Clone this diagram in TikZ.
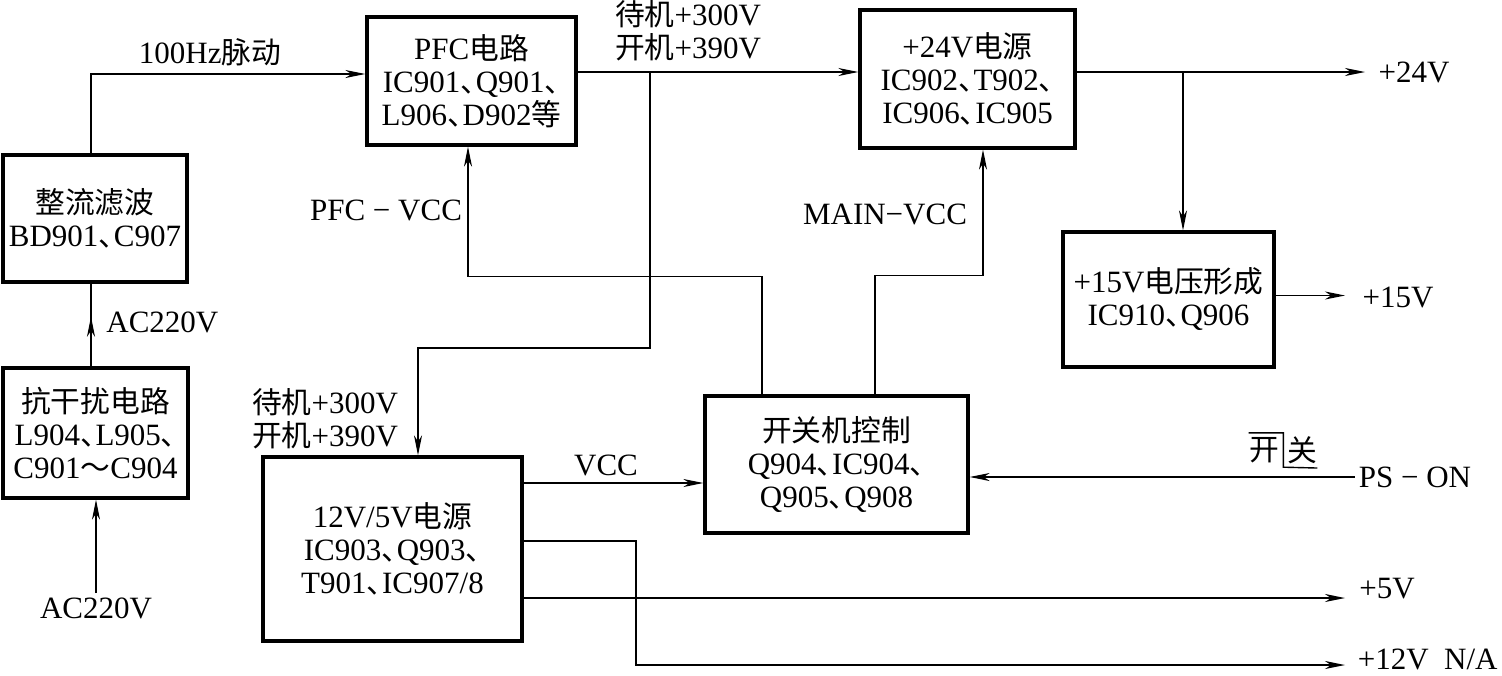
\documentclass[tikz,border=0pt]{standalone}
\usepackage{fontspec}
\setmainfont{Liberation Serif}
\newfontfamily\zhfont{Noto Sans CJK SC}[Scale=0.96]
\newcommand\zh[1]{{\zhfont #1}}
\newcommand\dn{\hbox to 0.5em{\zhfont 、\hss}}
\usetikzlibrary{arrows.meta,calc}
\begin{document}
\begin{tikzpicture}[x=0.5pt,y=-0.5pt,
  font=\fontsize{15.5}{16.5}\selectfont,
  box/.style={draw, line width=1.6pt, align=center, inner sep=0pt},
  lbl/.style={inner sep=2pt, align=center},
  arr/.style={line width=0.8pt, -{Stealth[length=10pt,width=4pt,inset=3pt]}},
  ln/.style={line width=0.8pt}]
\useasboundingbox (0,0) rectangle (1502,675);

% boxes
\node[box, minimum width=92pt, minimum height=63.5pt] (zl) at (95,218.5)
  {\zh{整流滤波}\\BD901\dn C907};
\node[box, minimum width=92.5pt, minimum height=65pt] (kgr) at (95.5,433)
  {\zh{抗干扰电路}\\L904\dn L905\dn\\C901\zh{～}C904};
\node[box, minimum width=104.5pt, minimum height=64pt] (pfc) at (471.5,81)
  {PFC\zh{电路}\\IC901\dn Q901\dn\\L906\dn D902\zh{等}};
\node[box, minimum width=107.5pt, minimum height=69pt] (p24) at (967.5,79)
  {+24V\zh{电源}\\IC902\dn T902\dn\\IC906\dn IC905};
\node[box, minimum width=105.5pt, minimum height=67.5pt] (p15) at (1168.5,299.5)
  {+15V\zh{电压形成}\\IC910\dn Q906};
\node[box, minimum width=131.5pt, minimum height=68.5pt] (ctl) at (836.5,464.5)
  {\zh{开关机控制}\\Q904\dn IC904\dn\\Q905\dn Q908};
\node[box, minimum width=129.5pt, minimum height=92pt] (v12) at (392.5,549)
  {12V/5V\zh{电源}\\IC903\dn Q903\dn\\T901\dn IC907/8};

% labels
\node[lbl] (ac0) at (96,608) {AC220V};
\node[lbl, anchor=west] (ac1) at (102,322) {AC220V};
\node[lbl] (hz) at (210,52) {100Hz\zh{脉动}};
\node[lbl] (top3) at (688,31) {\zh{待机}+300V\\\zh{开机}+390V};
\node[lbl] (left3) at (325,419) {\zh{待机}+300V\\\zh{开机}+390V};
\node[lbl] (pfcvcc) at (386,210) {PFC − VCC};
\node[lbl] (mainvcc) at (885,214) {MAIN−VCC};
\node[lbl] (vcc) at (606,465) {VCC};
\node[lbl] (l24) at (1414,72) {+24V};
\node[lbl] (l15) at (1398,297) {+15V};
\node[lbl] (pson) at (1415,477) {PS − ON};
\node[lbl] (l5) at (1387,589) {+5V};
\node[lbl, inner sep=0pt, anchor=east] (l12) at (1498,659) {+12V\ \ N/A};
\node[inner sep=0pt] (kai) at (1264,450) {\zh{开}};
\node[inner sep=0pt] (guan) at (1302,450) {\zh{关}};

% helper coordinates
\coordinate (y72) at (0,72);
\coordinate (b1) at (650,72);
\coordinate (b2) at (1183,72);
\coordinate (y483) at (0,483);
\coordinate (y541) at (0,541);
\coordinate (y598) at (0,598);
\coordinate (k12) at (636,665);
\coordinate (y665) at (0,665);
\coordinate (pe) at (1345,0);
\coordinate (pe24) at (1365,0);

% connectors
\draw[arr] (ac0.north) -- (ac0.north |- kgr.south);
\draw[ln] ([xshift=-2.25pt]kgr.north) -- ([xshift=-2.25pt]kgr.north |- zl.south);
\draw[arr] ([xshift=-2.25pt]kgr.north) -- ($([xshift=-2.25pt]kgr.north)!0.6!([xshift=-2.25pt]kgr.north |- zl.south)$);
\draw[arr] ([xshift=-2pt]zl.north) |- ([yshift=3.5pt]pfc.west);
\draw[arr] (pfc.east |- y72) -- (p24.west |- y72);
\draw[arr] (b1) -- ++(0,276) -| ([xshift=12.75pt]v12.north);
\draw[arr] ([xshift=-37.25pt]ctl.north) -- ++(0,-118) -| ([xshift=-1.75pt]pfc.south);
\draw[arr] ([xshift=19.25pt]ctl.north) -- ++(0,-119) -| ([xshift=7.75pt]p24.south);
\draw[arr] (p24.east |- y72) -- (pe24 |- y72);
\draw[arr] (b2) -- (b2 |- p15.north);
\draw[arr] ([yshift=2pt]p15.east) -- ([yshift=2pt]p15.east -| pe);
\draw[arr] (pson.west) -- (pson.west -| ctl.east);
\draw[arr] (v12.east |- y483) -- (ctl.west |- y483);
\draw[arr] (v12.east |- y598) -- (pe |- y598);
\draw[arr] (v12.east |- y541) -| (k12) -- (pe |- y665);
% overline bracket on switch label
\draw[line width=0.7pt] ([yshift=2pt]kai.north west) -- ([xshift=2pt,yshift=2pt]kai.north east)
  -- ([xshift=2pt,yshift=-2pt]kai.south east) -- ([yshift=-2pt]guan.south east);
\end{tikzpicture}
\end{document}
